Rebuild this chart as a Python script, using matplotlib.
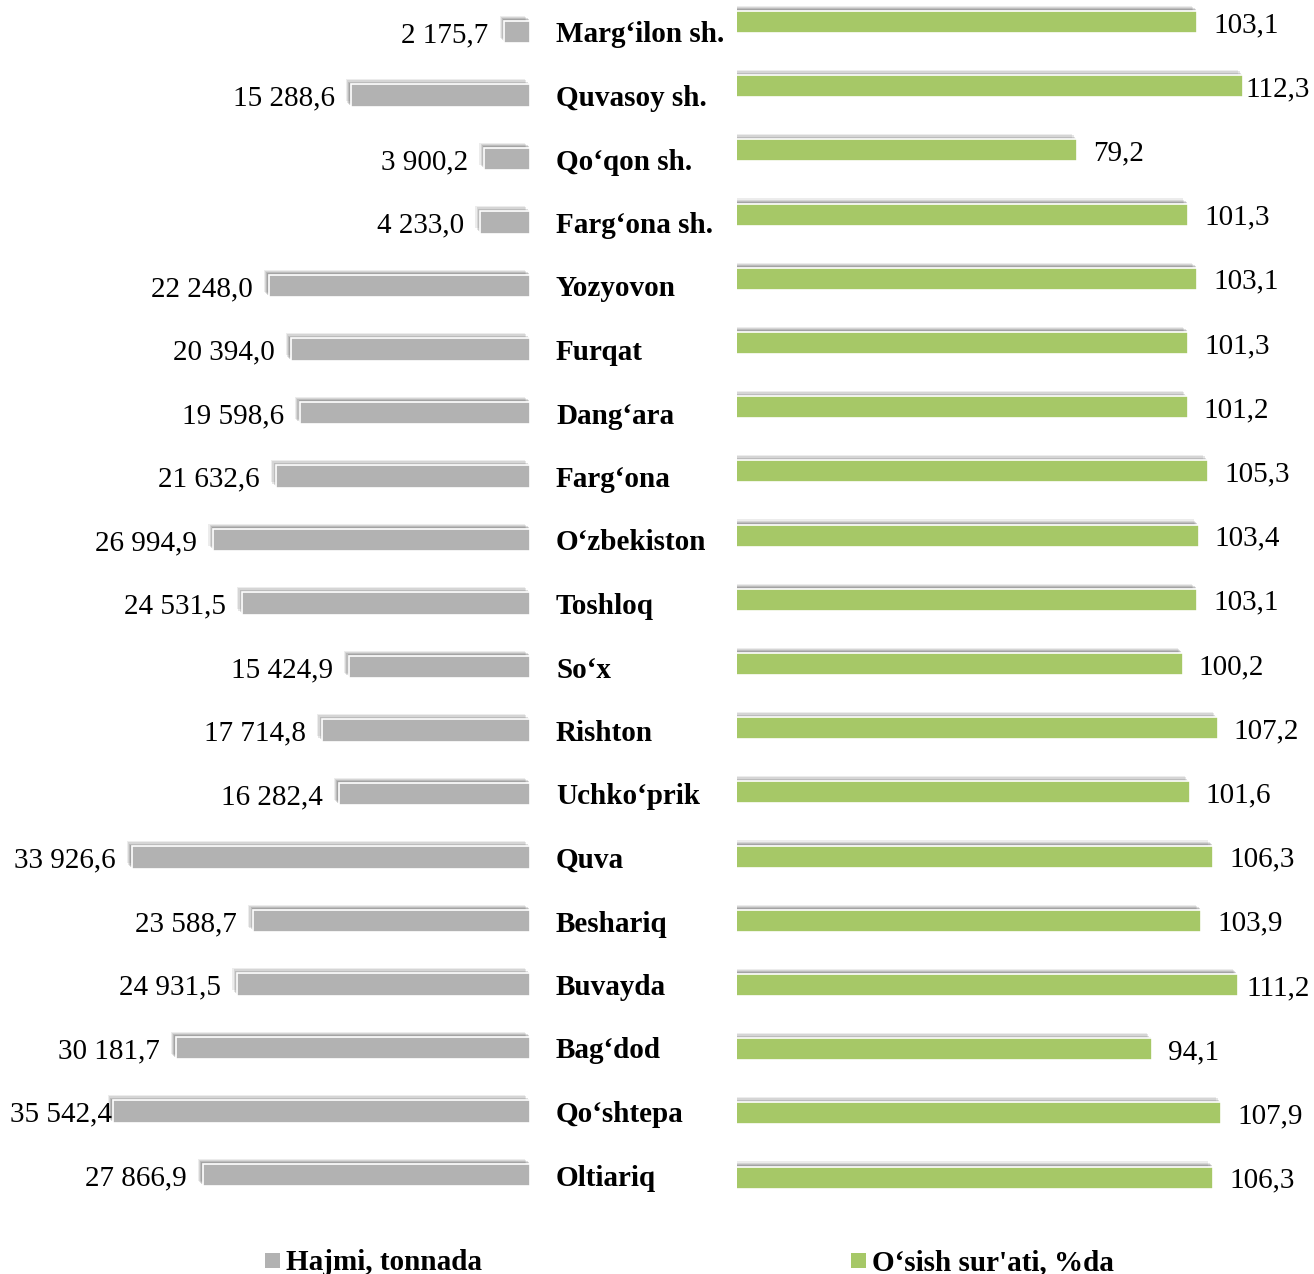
import matplotlib
matplotlib.use("Agg")
import matplotlib.pyplot as plt
import matplotlib.patheffects as pe
import matplotlib.transforms as mtransforms
from matplotlib.patches import Rectangle

plt.rcParams['font.family'] = ['Liberation Serif', 'DejaVu Serif']

categories = ["Marg‘ilon sh.", "Quvasoy sh.", "Qo‘qon sh.", "Farg‘ona sh.", "Yozyovon",
              "Furqat", "Dang‘ara", "Farg‘ona", "O‘zbekiston", "Toshloq", "So‘x",
              "Rishton", "Uchko‘prik", "Quva", "Beshariq", "Buvayda", "Bag‘dod",
              "Qo‘shtepa", "Oltiariq"]
volume = [2175.7, 15288.6, 3900.2, 4233.0, 22248.0, 20394.0, 19598.6, 21632.6,
          26994.9, 24531.5, 15424.9, 17714.8, 16282.4, 33926.6, 23588.7, 24931.5,
          30181.7, 35542.4, 27866.9]
growth = [103.1, 112.3, 79.2, 101.3, 103.1, 101.3, 101.2, 105.3, 103.4, 103.1,
          100.2, 107.2, 101.6, 106.3, 103.9, 111.2, 94.1, 107.9, 106.3]
legend_labels = ["Hajmi, tonnada", "O‘sish sur'ati, %da"]

GRAY = "#b2b2b2"
GREEN = "#a6c867"
W, H = 1314, 1274
FS = 21
DY = -3  # text baseline nudge in pixels

fig = plt.figure(figsize=(W / 100, H / 100), dpi=100)
n = len(categories)

def axes_rect(x0, x1, top, step):
    bottom_px = top + n * step
    return [x0 / W, 1 - bottom_px / H, (x1 - x0) / W, (n * step) / H]

axL = fig.add_axes(axes_rect(0, 530, 0.25, 63.5))
axR = fig.add_axes(axes_rect(737, 1314, -10.1, 64.2))

for ax in (axL, axR):
    ax.set_ylim(n - 0.5, -0.5)
    ax.axis('off')
    ax.patch.set_alpha(0)

axL.set_xlim(45150, 0)
axR.set_xlim(11.4, 126.4)

shadow = [pe.SimplePatchShadow(offset=(-3.5, 3.8), shadow_rgbFace='0.3', alpha=0.10),
          pe.SimplePatchShadow(offset=(-2.6, 2.9), shadow_rgbFace='0.3', alpha=0.14),
          pe.SimplePatchShadow(offset=(-1.8, 2.0), shadow_rgbFace='0.3', alpha=0.18),
          pe.SimplePatchShadow(offset=(-1.0, 1.2), shadow_rgbFace='0.3', alpha=0.22),
          pe.Normal()]

ypos = list(range(n))
barsL = axL.barh(ypos, volume, height=0.35, color=GRAY, edgecolor='white', linewidth=1.2)
barsR = axR.barh(ypos, growth, height=0.34, color=GREEN, edgecolor='white', linewidth=1.2)
for b in list(barsL) + list(barsR):
    b.set_path_effects(shadow)

def fmt(v):
    return f"{v:,.1f}".replace(",", " ").replace(".", ",")

annsL, annsR = [], []
for i, v in enumerate(volume):
    a = axL.annotate(fmt(v), xy=(v, i), xytext=(-16, DY), textcoords='offset pixels',
                     ha='right', va='center', fontsize=FS, annotation_clip=False)
    annsL.append(a)
for i, v in enumerate(growth):
    a = axR.annotate(fmt(v), xy=(v, i), xytext=(16, DY), textcoords='offset pixels',
                     ha='left', va='center', fontsize=FS, annotation_clip=False)
    annsR.append(a)

trans = mtransforms.blended_transform_factory(fig.transFigure, axL.transData)
trans = mtransforms.offset_copy(trans, fig=fig, y=DY, units='dots')
for i, c in enumerate(categories):
    fig.text(556 / W, i, c, transform=trans, ha='left', va='center',
             fontsize=FS, fontweight='bold')

# legend
for (x, col, lab) in [(265, GRAY, legend_labels[0]), (851, GREEN, legend_labels[1])]:
    fig.patches.append(Rectangle((x / W, 1 - 1268 / H), 15 / W, 15 / H,
                                 transform=fig.transFigure, facecolor=col,
                                 edgecolor='none'))
    fig.text((x + 21) / W, 1 - 1263 / H, lab, ha='left', va='center',
             fontsize=FS, fontweight='bold')

fig.canvas.draw()
r = fig.canvas.get_renderer()
for a in annsL:
    bb = a.get_window_extent(r)
    if bb.x0 < 10:
        a.xyann = (-16 + (10 - bb.x0), DY)
for a in annsR:
    bb = a.get_window_extent(r)
    if bb.x1 > 1310:
        a.xyann = (16 - (bb.x1 - 1310), DY)

fig.savefig("out.png", dpi=100)
